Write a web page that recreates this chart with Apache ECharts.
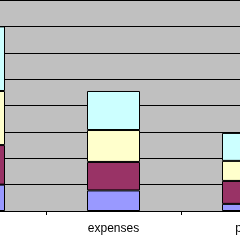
<!DOCTYPE html>
<html>
<head>
<meta charset="utf-8">
<script src="https://cdn.jsdelivr.net/npm/echarts@6/dist/echarts.min.js"></script>
<style>
html, body { margin: 0; padding: 0; background: #fff; overflow: hidden; width: 240px; height: 240px; }
/* the reference is a crop of a wider chart, so the canvas is wider than the window */
#chart { position: absolute; left: -89px; top: 0; width: 405px; height: 240px; }
</style>
</head>
<body>
<div id="chart"></div>
<script>
var categories = ['revenue', 'expenses', 'profit'];
var part1 = [1.0, 0.78, 0.27];
var part2 = [1.5, 1.08, 0.87];
var part3 = [2.05, 1.21, 0.76];
var part4 = [2.45, 1.48, 1.06];

var chart = echarts.init(document.getElementById('chart'));

function bar(name, data, color) {
    return {
        name: name,
        type: 'bar',
        stack: 'all',
        barWidth: 53,
        data: data,
        itemStyle: { color: color, borderColor: '#000', borderWidth: 1 }
    };
}

option = {
    animation: false,
    grid: {
        left: 0,
        right: 0,
        top: 0,
        bottom: 29,
        show: true,
        backgroundColor: '#c0c0c0',
        borderWidth: 0
    },
    xAxis: {
        type: 'category',
        data: categories,
        axisLine: { lineStyle: { color: '#000', width: 1 } },
        axisTick: { show: true, length: 4, lineStyle: { color: '#000' } },
        axisLabel: {
            color: '#000',
            fontFamily: 'Liberation Sans',
            fontSize: 12,
            margin: 12
        }
    },
    yAxis: {
        type: 'value',
        min: 0,
        max: 8,
        interval: 1,
        axisLine: { show: false },
        axisTick: { show: false },
        axisLabel: { show: false },
        splitLine: { lineStyle: { color: '#000', width: 1 } }
    },
    series: [
        bar('a', part1, '#9999ff'),
        bar('b', part2, '#993366'),
        bar('c', part3, '#ffffcc'),
        bar('d', part4, '#ccffff')
    ]
};
chart.setOption(option);
</script>
</body>
</html>
